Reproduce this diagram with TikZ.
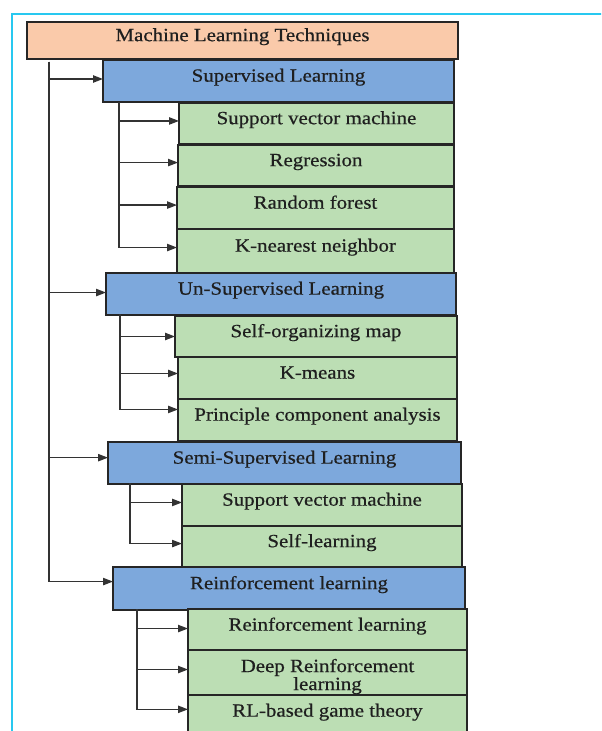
\documentclass[tikz,border=0pt]{standalone}
\usepackage{fontspec}
\setmainfont{Liberation Serif}[FakeStretch=1.12,FakeBold=0.6]
\usetikzlibrary{arrows.meta}
\definecolor{peach}{RGB}{250,202,170}
\definecolor{blu}{RGB}{125,168,220}
\definecolor{grn}{RGB}{188,222,180}
\definecolor{cyanf}{RGB}{40,200,240}
\begin{document}
\begin{tikzpicture}[x=0.75pt,y=-0.75pt,
 bx/.style={draw=black!85, line width=1.2pt, inner sep=0pt, outer sep=0pt, anchor=north west,
   font=\fontsize{14}{16}\selectfont, text=black!88},
 lbl/.style={text height=9.8pt, text depth=8.8pt},
 topbox/.style={bx,lbl,fill=peach},
 cat/.style={bx,lbl,fill=blu},
 leaf/.style={bx,lbl,fill=grn},
 txt/.style={font=\fontsize{14}{13.5}\selectfont, text=black!88, align=center, inner sep=0pt, anchor=north},
 arr/.style={draw=black!80,line width=1pt,-{Triangle[length=7.5pt,width=5.5pt]}}]
\clip (0,0) rectangle (601,731);
\fill[white] (0,0) rectangle (601,731);
\draw[cyanf, line width=2pt] (640,14) -- (12,14) -- (12,760);
% boxes
\node[topbox, minimum width=431*0.75pt, minimum height=37*0.75pt] (mlt) at (27,22) {Machine Learning Techniques};
\node[cat, minimum width=351*0.75pt, minimum height=42*0.75pt] (sup) at (103,60) {Supervised Learning};
\node[leaf, minimum width=275*0.75pt, minimum height=41*0.75pt] (svma) at (179,103) {Support vector machine};
\node[leaf, minimum width=276*0.75pt, minimum height=41*0.75pt] (reg) at (178,145) {Regression};
\node[leaf, minimum width=277*0.75pt, minimum height=42*0.75pt] (rf) at (177,187) {Random forest};
\node[leaf, minimum width=277*0.75pt, minimum height=44*0.75pt] (knn) at (177,229) {K-nearest neighbor};
\node[cat, minimum width=350*0.75pt, minimum height=42*0.75pt] (uns) at (106,273) {Un-Supervised Learning};
\node[leaf, minimum width=282*0.75pt, minimum height=41*0.75pt] (som) at (175,316) {Self-organizing map};
\node[leaf, minimum width=279*0.75pt, minimum height=42*0.75pt] (km) at (178,357) {K-means};
\node[leaf, minimum width=279*0.75pt, minimum height=42*0.75pt] (pca) at (178,399) {Principle component analysis};
\node[cat, minimum width=353*0.75pt, minimum height=42*0.75pt] (semi) at (108,442) {Semi-Supervised Learning};
\node[leaf, minimum width=280*0.75pt, minimum height=42*0.75pt] (svmb) at (182,484) {Support vector machine};
\node[leaf, minimum width=280*0.75pt, minimum height=41*0.75pt] (sl) at (182,526) {Self-learning};
\node[cat, minimum width=352*0.75pt, minimum height=43*0.75pt] (rl) at (113,567) {Reinforcement learning};
\node[leaf, minimum width=279*0.75pt, minimum height=42*0.75pt] (rla) at (188,609) {Reinforcement learning};
\node[bx, fill=grn, minimum width=279*0.75pt, minimum height=46*0.75pt] (drl) at (188,650) {};
\node[txt] (drltx) at ([yshift=-6.5pt]drl.north) {Deep Reinforcement\\learning};
\node[leaf, minimum width=279*0.75pt, minimum height=42*0.75pt] (rlg) at (188,695) {RL-based game theory};
% trunks
\coordinate (t0) at (49,62);
\coordinate (s1) at (119,102);
\coordinate (s2) at (120,314);
\coordinate (s3) at (130,483);
\coordinate (s4) at (137,609);
\draw[arr] (t0) |- ([yshift=1.5pt]sup.west);
\draw[arr] (t0) |- ([yshift=1.1pt]uns.west);
\draw[arr] (t0) |- ([yshift=4pt]semi.west);
\draw[arr] (t0) |- ([yshift=5.2pt]rl.west);
\draw[arr] (s1) |- ([yshift=1.9pt]svma.west);
\draw[arr] (s1) |- ([yshift=2.2pt]reg.west);
\draw[arr] (s1) |- ([yshift=2.2pt]rf.west);
\draw[arr] (s1) |- ([yshift=2.6pt]knn.west);
\draw[arr] (s2) |- (som.west);
\draw[arr] (s2) |- ([yshift=3.4pt]km.west);
\draw[arr] (s2) |- ([yshift=7.9pt]pca.west);
\draw[arr] (s3) |- ([yshift=1.9pt]svmb.west);
\draw[arr] (s3) |- ([yshift=2.2pt]sl.west);
\draw[arr] (s4) |- ([yshift=1.1pt]rla.west);
\draw[arr] (s4) |- ([yshift=2.6pt]drl.west);
\draw[arr] (s4) |- ([yshift=5pt]rlg.west);
\end{tikzpicture}
\end{document}
